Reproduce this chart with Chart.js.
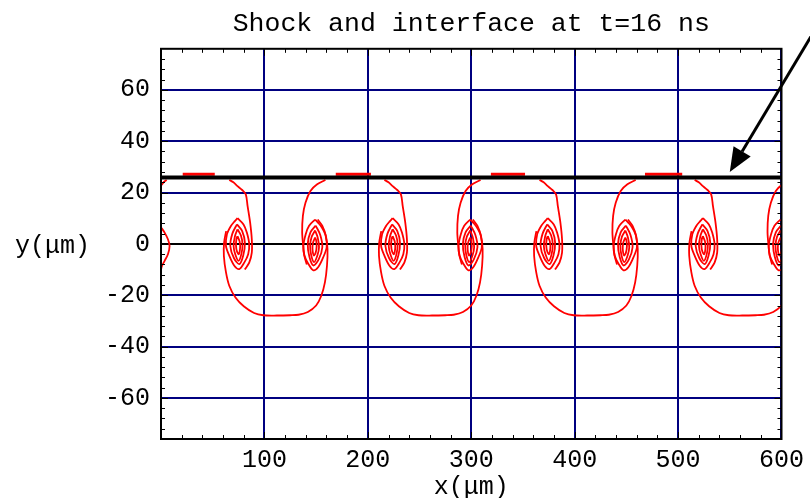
<!DOCTYPE html>
<html>
<head>
<meta charset="utf-8">
<script src="https://cdn.jsdelivr.net/npm/chart.js@4.4.1/dist/chart.umd.min.js"></script>
<style>
  html, body { margin: 0; padding: 0; background: #fff; }
  canvas { display: block; }
</style>
</head>
<body>
<canvas id="chart" width="810" height="498"></canvas>
<script>
const xTicks = [100, 200, 300, 400, 500, 600];
const yTicks = [-60, -40, -20, 0, 20, 40, 60];

// shock front and the little red bits sitting on it
const shockY = 25.9;
const shockMarkY = 27.1;
const shockMarks = [[21, 52], [169, 203], [319, 352], [468, 504]];

// one 150 um cell of the interface
const cellOffsets = [0, 150, 300, 450];
const armDown = [[66, 24.9], [70, 24], [74, 22.5], [78.5, 21], [82, 19.3], [83.7, 14.8], [86.2, 8.3],
                 [87.8, 1.8], [87.8, -3.4], [85.3, -7.3], [81, -10]];
const loopU = [[63, 5], [61, 0.5], [60.8, -4.7], [62.8, -11], [66, -16.3], [72, -20.9], [80, -24.3],
               [90, -26.9], [99, -27.8], [112, -27.9], [125, -27.8], [133, -27.6], [142, -26.5],
               [150, -24], [155, -20.2], [158.5, -15], [160.5, -8.5], [161, -2], [159.5, 3],
               [156, 7], [151.5, 9.5]];
const armUp = [[141, -8], [138.5, -4.5], [137.5, -0.8], [136.5, 4.4], [137.2, 10.9], [139.7, 16],
               [144.5, 20.6], [151, 23.2], [159, 24.9]];

// vortex rings, relative to the vortex centre (second vortex is mirrored)
const vortexA = [74, 0];
const vortexB = [149, -0.5];
const ring1 = [[0, 10], [5.8, 7.6], [9, 4.4], [11.3, -0.1], [10.3, -4], [6.5, -7.3], [1.7, -9.8],
               [-3.1, -8.5], [-7.9, -4.7], [-11.2, -0.8], [-10.2, 3.8], [-6.4, 7], [-2.6, 8.9], [0, 10]];
const ring2 = [[-0.6, 7.6], [4.5, 5], [7.1, 0.5], [5.5, -4.5], [1.7, -7.9], [-3.5, -5.5], [-7, -0.8],
               [-5, 4], [-0.6, 7.6]];
const ring3 = [[0, 5.7], [3.3, 3.3], [4.8, -0.1], [3.8, -3.8], [1, -6.6], [-2.2, -4], [-3.8, -0.8],
               [-2.5, 3], [0, 5.7]];
const ring4 = [[0, 3], [2, 1], [2.5, -1.5], [1.2, -4], [-0.5, -3], [-1.5, -0.5], [-1, 2], [0, 3]];
const vortexRings = [ring1, ring2, ring3, ring4];

// bits cut by the left edge
const leftArm = [[-2, 21.5], [0.5, 23], [3, 24.2], [5.5, 24.9]];
const leftArc = [[-1, 7], [0.3, 6.3], [3.5, 4.4], [6.7, 1.8], [8.3, -0.8], [6.7, -4], [3.5, -6.6],
                 [1, -8.5], [-0.3, -10.5]];

const RED = '#ff0000';
const NAVY = '#000080';
const FONT = '"Liberation Mono", "DejaVu Sans Mono", monospace';

function redLine(points) {
  return {
    data: points.map(([x, y]) => ({ x, y })),
    borderColor: RED,
    borderWidth: 1.8,
    showLine: true,
    pointRadius: 0,
    tension: 0.3,
    fill: false
  };
}

const datasets = [];
datasets.push({
  data: [{ x: 0, y: shockY }, { x: 600, y: shockY }],
  borderColor: '#000', borderWidth: 4, showLine: true, pointRadius: 0
});
shockMarks.forEach(([a, b]) => {
  datasets.push({
    data: [{ x: a, y: shockMarkY }, { x: b, y: shockMarkY }],
    borderColor: RED, borderWidth: 3, showLine: true, pointRadius: 0
  });
});
cellOffsets.forEach(off => {
  datasets.push(redLine(armDown.map(([x, y]) => [x + off, y])));
  datasets.push(redLine(loopU.map(([x, y]) => [x + off, y])));
  datasets.push(redLine(armUp.map(([x, y]) => [x + off, y])));
  vortexRings.forEach(ring => {
    datasets.push(redLine(ring.map(([dx, dy]) => [vortexA[0] + off + dx, vortexA[1] + dy])));
    datasets.push(redLine(ring.map(([dx, dy]) => [vortexB[0] + off - dx, vortexB[1] + dy])));
  });
});
datasets.push(redLine(leftArm));
datasets.push(redLine(leftArc));

// frame with inward ticks, horizontal axis labels and the arrow
const framePlugin = {
  id: 'frame',
  afterDraw(chart) {
    const { ctx, chartArea: a, scales: { x, y } } = chart;
    ctx.save();
    ctx.strokeStyle = '#000';
    ctx.lineWidth = 1;
    ctx.beginPath();
    for (let v = 20; v < 600; v += 20) {
      const px = Math.round(x.getPixelForValue(v)) + 0.5;
      const len = v % 100 === 0 ? 7 : 4;
      ctx.moveTo(px, a.bottom); ctx.lineTo(px, a.bottom - len);
      ctx.moveTo(px, a.top); ctx.lineTo(px, a.top + len);
    }
    for (let v = -72; v <= 72; v += 4) {
      const py = Math.round(y.getPixelForValue(v)) + 0.5;
      const len = v % 20 === 0 ? 7 : 4;
      ctx.moveTo(a.left, py); ctx.lineTo(a.left + len, py);
      ctx.moveTo(a.right, py); ctx.lineTo(a.right - len, py);
    }
    ctx.stroke();
    ctx.lineWidth = 2;
    ctx.strokeRect(a.left, a.top, a.right - a.left, a.bottom - a.top);

    ctx.fillStyle = '#000';
    ctx.font = '25px ' + FONT;
    ctx.textBaseline = 'middle';
    ctx.textAlign = 'center';
    ctx.fillText('x(μm)', (a.left + a.right) / 2, a.bottom + 48);
    ctx.textAlign = 'left';
    ctx.fillText('y(μm)', 15, y.getPixelForValue(0) + 2);

    // arrow pointing at the shock
    const tx = x.getPixelForValue(550), ty = y.getPixelForValue(28);
    const sx = tx + 103, sy = ty - 172;
    const ang = Math.atan2(ty - sy, tx - sx);
    const hl = 24, hw = 10;
    const bx = tx - hl * Math.cos(ang), by = ty - hl * Math.sin(ang);
    ctx.lineWidth = 3;
    ctx.beginPath();
    ctx.moveTo(sx, sy);
    ctx.lineTo(bx, by);
    ctx.stroke();
    ctx.beginPath();
    ctx.moveTo(tx, ty);
    ctx.lineTo(bx + hw * Math.sin(ang), by - hw * Math.cos(ang));
    ctx.lineTo(bx - hw * Math.sin(ang), by + hw * Math.cos(ang));
    ctx.closePath();
    ctx.fill();
    ctx.restore();
  }
};

new Chart(document.getElementById('chart'), {
  type: 'scatter',
  data: { datasets },
  options: {
    responsive: false,
    animation: false,
    events: [],
    layout: { padding: { left: 0, right: 25, top: 0, bottom: 0 } },
    plugins: {
      legend: { display: false },
      tooltip: { enabled: false },
      title: {
        display: true,
        text: 'Shock and interface at t=16 ns',
        fullSize: false,
        color: '#000',
        font: { family: FONT, size: 26.5, weight: 'normal' },
        padding: { top: 8, bottom: 9 }
      }
    },
    scales: {
      x: {
        type: 'linear',
        min: 0,
        max: 600,
        afterBuildTicks: axis => { axis.ticks = xTicks.map(v => ({ value: v })); },
        afterFit: axis => { axis.height = 59; },
        border: { display: false },
        grid: { color: NAVY, lineWidth: 2, drawTicks: false },
        ticks: { color: '#000', padding: 6, maxRotation: 0, font: { family: FONT, size: 25 } }
      },
      y: {
        type: 'linear',
        min: -76,
        max: 76,
        afterBuildTicks: axis => { axis.ticks = yTicks.map(v => ({ value: v })); },
        afterFit: axis => { axis.width = 161; },
        border: { display: false },
        grid: {
          color: c => (c.tick && c.tick.value === 0 ? '#000' : NAVY),
          lineWidth: 2,
          drawTicks: false
        },
        ticks: { color: '#000', padding: 11, font: { family: FONT, size: 25 } }
      }
    }
  },
  plugins: [framePlugin]
});
</script>
</body>
</html>
